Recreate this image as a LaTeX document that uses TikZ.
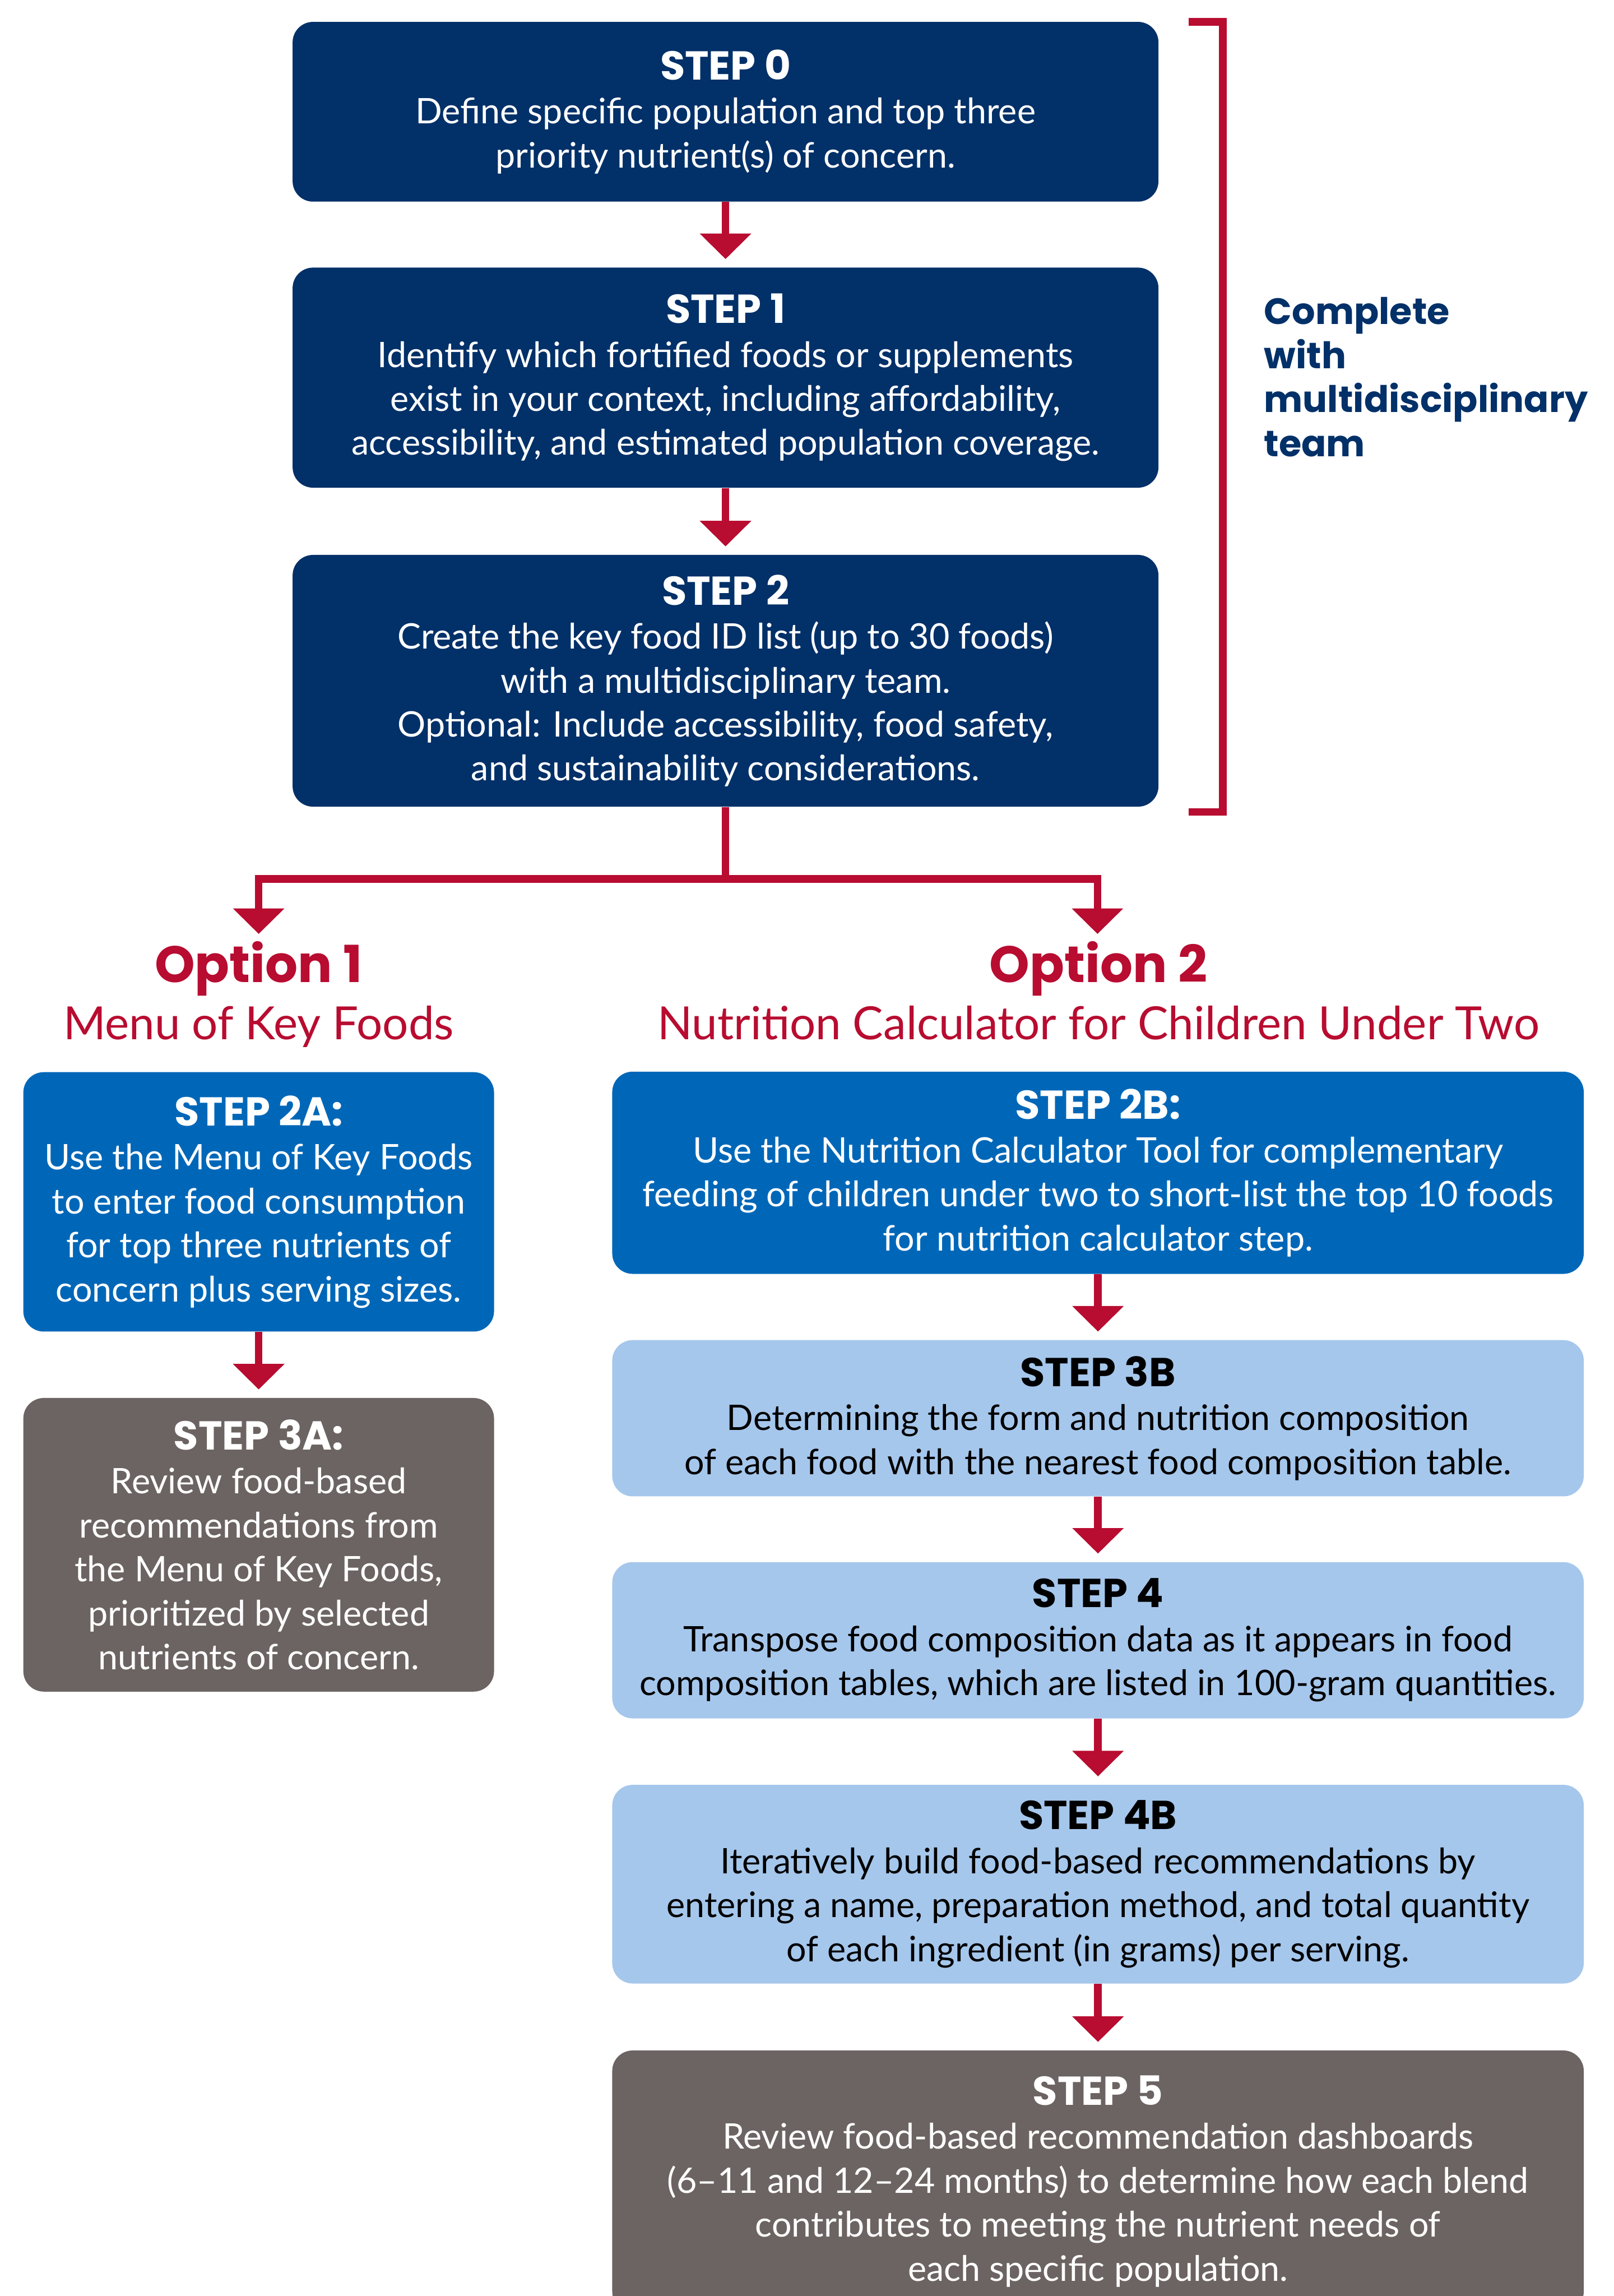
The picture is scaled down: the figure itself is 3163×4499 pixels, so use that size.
\documentclass[tikz,border=0pt]{standalone}
\usepackage{fontspec}
\setmainfont{Lato}
\newfontfamily\headfont{Poppins}
\usetikzlibrary{arrows.meta}
\definecolor{navy}{HTML}{023068}
\definecolor{midblue}{HTML}{0067B8}
\definecolor{lightblue}{HTML}{A6C7EC}
\definecolor{greybox}{HTML}{6C6462}
\definecolor{redline}{HTML}{B80C30}
\newcommand\steptitle[1]{{\headfont\bfseries\fontsize{22.5}{24.5}\selectfont #1}}
\begin{document}
\begin{tikzpicture}[x=0.01cm,y=-0.01cm,
  box/.style={rounded corners=0.4cm, align=center, inner sep=0pt,
    font=\fontsize{19.6}{24.5}\selectfont},
  darkbox/.style={box, fill=navy, text=white},
  bluebox/.style={box, fill=midblue, text=white},
  lightbox/.style={box, fill=lightblue, text=black},
  greyfill/.style={box, fill=greybox, text=white},
  redstroke/.style={draw=redline, line width=0.15cm, line join=miter},
  arr/.style={redstroke, -{Triangle[width=0.98cm,length=0.5cm]}, shorten >=0.16cm},
  optitle/.style={text=redline, inner sep=0pt, font=\headfont\bfseries\fontsize{28.5}{32}\selectfont},
  opsub/.style={text=redline, inner sep=0pt, font=\fontsize{25.5}{30}\selectfont},
]
\useasboundingbox (0,0) rectangle (3163,4499);
\fill[white] (0,0) rectangle (3163,4499);
\clip (0,0) rectangle (3163,4499);

% top column
\node[darkbox, minimum width=16.96cm, minimum height=3.52cm] (s0) at (1422,219)
  {\steptitle{STEP 0}\\Define specific population and top three\\priority nutrient(s) of concern.};
\node[darkbox, minimum width=16.96cm, minimum height=4.31cm] (s1) at (1422,740)
  {\steptitle{STEP 1}\\Identify which fortified foods or supplements\\exist in your context, including affordability,\\accessibility, and estimated population coverage.};
\node[darkbox, minimum width=16.96cm, minimum height=4.93cm] (s2) at (1422,1334)
  {\steptitle{STEP 2}\\Create the key food ID list (up to 30 foods)\\with a multidisciplinary team.\\Optional: Include accessibility, food safety,\\and sustainability considerations.};

% bracket and team note
\coordinate (bt1) at (2330,43);
\coordinate (bt2) at (2397,43);
\coordinate (bb2) at (2397,1591);
\coordinate (bb1) at (2330,1591);
\draw[redstroke] (bt1) -- (bt2) -- (bb2) -- (bb1);
\node[anchor=north west, align=left, inner sep=0pt, text=navy,
  font=\headfont\bfseries\fontsize{20.4}{24.5}\selectfont] (team) at (2477,582)
  {Complete\\with\\multidisciplinary\\team};

% branch
\coordinate (jL) at (507,1722);
\coordinate (jR) at (2151,1722);
\coordinate (tL) at (507,1830);
\coordinate (tR) at (2151,1830);
\draw[redstroke] (s2.south) -- (s2.south |- jL);
\draw[redstroke, {Triangle[width=0.98cm,length=0.5cm]}-{Triangle[width=0.98cm,length=0.5cm]}] (tL) -- (jL) -- (jR) -- (tR);

\node[optitle, anchor=base] (op1) at (507,1925) {Option 1};
\node[opsub, anchor=base] (op1s) at (507,2037) {Menu of Key Foods};
\node[optitle, anchor=base] (op2) at (2153,1925) {Option 2};
\node[opsub, anchor=base] (op2s) at (2153,2037) {Nutrition Calculator for Children Under Two};

% option 1 column
\node[bluebox, minimum width=9.22cm, minimum height=5.08cm] (s2a) at (507,2355)
  {\steptitle{STEP 2A:}\\Use the Menu of Key Foods\\to enter food consumption\\for top three nutrients of\\concern plus serving sizes.};
\node[greyfill, minimum width=9.22cm, minimum height=5.75cm] (s3a) at (507,3027)
  {\steptitle{STEP 3A:}\\Review food-based\\recommendations from\\the Menu of Key Foods,\\prioritized by selected\\nutrients of concern.};

% option 2 column
\node[bluebox, minimum width=19.03cm, minimum height=3.96cm] (s2b) at (2152,2298)
  {\steptitle{STEP 2B:}\\Use the Nutrition Calculator Tool for complementary\\feeding of children under two to short-list the top 10 foods\\for nutrition calculator step.};
\node[lightbox, minimum width=19.03cm, minimum height=3.06cm] (s3b) at (2152,2779)
  {\steptitle{STEP 3B}\\Determining the form and nutrition composition\\of each food with the nearest food composition table.};
\node[lightbox, minimum width=19.03cm, minimum height=3.06cm] (s4) at (2152,3214)
  {\steptitle{STEP 4}\\Transpose food composition data as it appears in food\\composition tables, which are listed in 100-gram quantities.};
\node[lightbox, minimum width=19.03cm, minimum height=3.89cm] (s4b) at (2152,3692)
  {\steptitle{STEP 4B}\\Iteratively build food-based recommendations by\\entering a name, preparation method, and total quantity\\of each ingredient (in grams) per serving.};
\node[greyfill, minimum width=19.03cm, minimum height=5.12cm] (s5) at (2152,4274)
  {\steptitle{STEP 5}\\Review food-based recommendation dashboards\\(6–11 and 12–24 months) to determine how each blend\\contributes to meeting the nutrient needs of\\each specific population.};

% arrows
\draw[arr] (s0) -- (s1);
\draw[arr] (s1) -- (s2);
\draw[arr] (s2a) -- (s3a);
\draw[arr] (s2b) -- (s3b);
\draw[arr] (s3b) -- (s4);
\draw[arr] (s4) -- (s4b);
\draw[arr] (s4b) -- (s5);
\end{tikzpicture}
\end{document}
